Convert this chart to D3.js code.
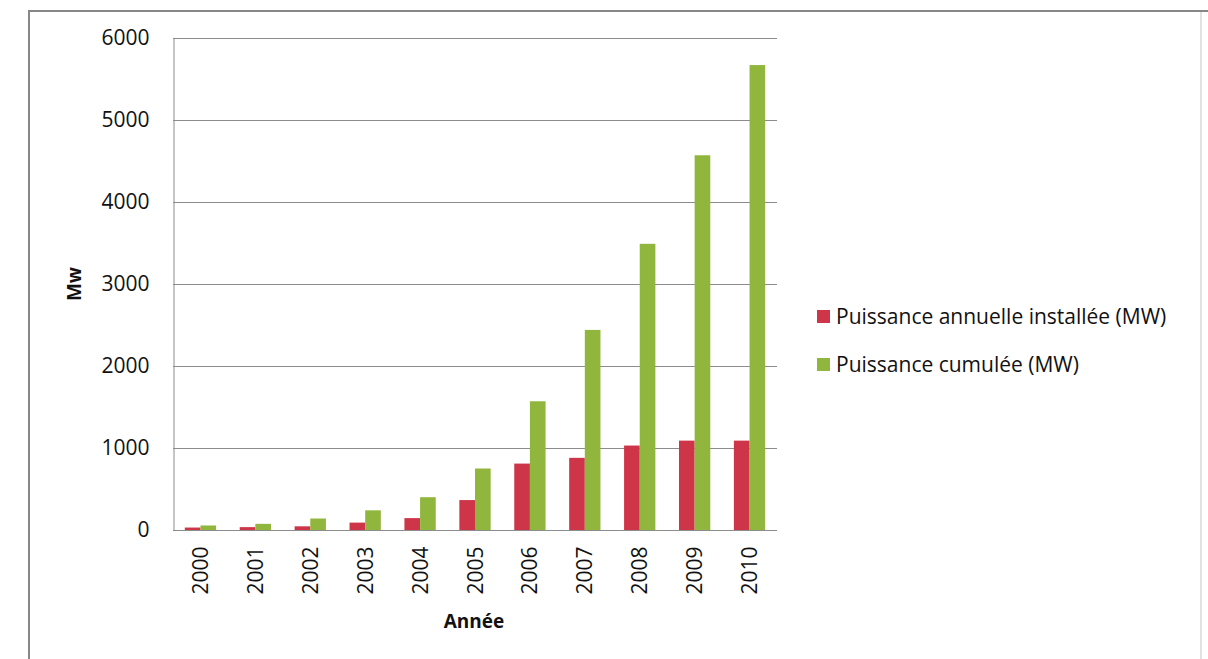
<!DOCTYPE html>
<html>
<head>
<meta charset="utf-8">
<script src="https://cdn.jsdelivr.net/npm/d3@7"></script>
<style>
  html, body { margin: 0; padding: 0; background: #fff; }
  svg { display: block; font-family: "Open Sans", sans-serif; }
</style>
</head>
<body>
<div id="chart"></div>
<script>
// values
var years = ['2000', '2001', '2002', '2003', '2004', '2005', '2006', '2007', '2008', '2009', '2010'];
var annual = [30, 35, 45, 90, 145, 365, 810, 880, 1030, 1090, 1090];
var cumul = [55, 75, 140, 240, 400, 750, 1570, 2440, 3490, 4570, 5670];
var yTicks = [0, 1000, 2000, 3000, 4000, 5000, 6000];
var seriesNames = ['Puissance annuelle installée (MW)', 'Puissance cumulée (MW)'];
var seriesColors = ['#cf3549', '#91b63e'];

var W = 1208, H = 659;
var plot = { left: 173, top: 38, right: 777, bottom: 530 };

var svg = d3.select('#chart').append('svg')
    .attr('width', W)
    .attr('height', H);

// outer frame (top + left dark, right side faint)
svg.append('line')
    .attr('x1', 1201).attr('x2', 1201).attr('y1', 10).attr('y2', H)
    .attr('stroke', '#e2e2e2').attr('stroke-width', 2);
svg.append('path')
    .attr('d', 'M29,' + H + 'V11H1208')
    .attr('fill', 'none')
    .attr('stroke', '#878787')
    .attr('stroke-width', 2);

var x = d3.scaleBand()
    .domain(years)
    .range([plot.left, plot.right])
    .paddingInner(0.43)
    .paddingOuter(0.215);

var xs = d3.scaleBand()
    .domain([0, 1])
    .range([0, x.bandwidth()]);

var y = d3.scaleLinear()
    .domain([0, 6000])
    .range([plot.bottom, plot.top]);

// gridlines
svg.append('g')
    .selectAll('line')
    .data(yTicks.slice(1))
    .enter().append('line')
    .attr('x1', plot.left).attr('x2', plot.right)
    .attr('y1', function (d) { return Math.round(y(d)) + 0.5; })
    .attr('y2', function (d) { return Math.round(y(d)) + 0.5; })
    .attr('stroke', '#8c8c8c');

// bars
var rows = years.map(function (yr, i) { return { year: yr, vals: [annual[i], cumul[i]] }; });
var groups = svg.append('g').selectAll('g')
    .data(rows)
    .enter().append('g')
    .attr('transform', function (d) { return 'translate(' + x(d.year) + ',0)'; });

groups.selectAll('rect')
    .data(function (d) { return d.vals; })
    .enter().append('rect')
    .attr('x', function (d, i) { return xs(i); })
    .attr('width', xs.bandwidth())
    .attr('y', function (d) { return y(d); })
    .attr('height', function (d) { return y(0) - y(d); })
    .attr('fill', function (d, i) { return seriesColors[i]; });

// y axis
var yAxis = svg.append('g')
    .attr('transform', 'translate(' + (plot.left + 0.5) + ',0)')
    .call(d3.axisLeft(y).tickValues(yTicks).tickSize(0).tickPadding(24).tickFormat(d3.format('d')));
yAxis.select('.domain').attr('stroke', '#8c8c8c');
yAxis.selectAll('text')
    .attr('font-size', 21)
    .attr('font-family', '"Open Sans", sans-serif')
    .attr('fill', '#111');

// x axis
var xAxis = svg.append('g')
    .attr('transform', 'translate(0,' + (plot.bottom + 0.5) + ')')
    .call(d3.axisBottom(x).tickSize(0).tickPadding(0));
xAxis.select('.domain').attr('stroke', '#8c8c8c')
    .attr('d', 'M' + plot.left + ',0H' + plot.right);
xAxis.selectAll('text')
    .attr('font-size', 21)
    .attr('font-family', '"Open Sans", sans-serif')
    .attr('fill', '#111')
    .attr('text-anchor', 'end')
    .attr('dy', '0.36em')
    .attr('transform', 'translate(0,16) rotate(-90)')
    .attr('x', 0).attr('y', 0);

// axis titles
svg.append('text')
    .attr('transform', 'translate(81,284) rotate(-90)')
    .attr('text-anchor', 'middle')
    .attr('font-size', 19)
    .attr('font-weight', 'bold')
    .attr('fill', '#111')
    .text('Mw');

svg.append('text')
    .attr('x', 474).attr('y', 628)
    .attr('text-anchor', 'middle')
    .attr('font-size', 19)
    .attr('font-weight', 'bold')
    .attr('fill', '#111')
    .text('Année');

// legend
var legend = svg.append('g').selectAll('g')
    .data(seriesNames)
    .enter().append('g')
    .attr('transform', function (d, i) { return 'translate(817,' + (310 + i * 48) + ')'; });
legend.append('rect')
    .attr('width', 13).attr('height', 13)
    .attr('fill', function (d, i) { return seriesColors[i]; });
legend.append('text')
    .attr('x', 19).attr('y', 14)
    .attr('font-size', 21)
    .attr('fill', '#111')
    .text(function (d) { return d; });
</script>
</body>
</html>
